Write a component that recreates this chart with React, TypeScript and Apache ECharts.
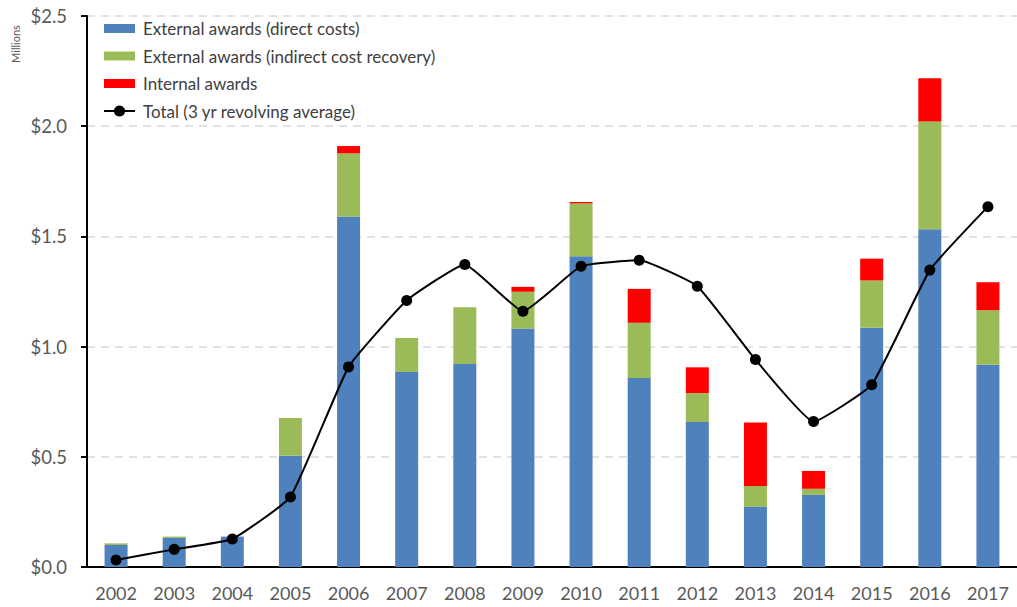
import React, { useEffect, useRef } from "react";
import * as echarts from "echarts";

const years = ["2002", "2003", "2004", "2005", "2006", "2007", "2008", "2009", "2010", "2011", "2012", "2013", "2014", "2015", "2016", "2017"];
const directCosts = [0.10, 0.132, 0.138, 0.505, 1.59, 0.885, 0.921, 1.082, 1.41, 0.858, 0.658, 0.274, 0.327, 1.085, 1.532, 0.918];
const indirectRecovery = [0.007, 0.006, 0, 0.171, 0.287, 0.154, 0.258, 0.167, 0.24, 0.25, 0.131, 0.094, 0.028, 0.215, 0.489, 0.247];
const internalAwards = [0, 0, 0, 0, 0.033, 0, 0, 0.022, 0.006, 0.154, 0.117, 0.288, 0.081, 0.099, 0.197, 0.127];
const revolvingAverage = [0.032, 0.080, 0.127, 0.318, 0.908, 1.209, 1.373, 1.16, 1.365, 1.392, 1.274, 0.941, 0.66, 0.827, 1.347, 1.635];

const FONT = "Lato";
const RECT_ICON = "path://M0 0H31V9H0Z";

export default function App() {
  const ref = useRef<HTMLDivElement>(null);
  useEffect(() => {
    if (!ref.current) return;
    const chart = echarts.init(ref.current, null, { renderer: "svg" });
    chart.setOption({
      animation: false,
      backgroundColor: "#ffffff",
      textStyle: { fontFamily: FONT },
      grid: { left: 87, top: 16, width: 938, height: 551, containLabel: false },
      legend: {
        orient: "vertical",
        left: 103,
        top: 20,
        padding: 0,
        itemWidth: 31,
        itemHeight: 14,
        itemGap: 10.5,
        selectedMode: false,
        textStyle: { fontFamily: FONT, fontSize: 17, color: "#404040", padding: [0, 0, 0, 3] },
        data: [
          { name: "External awards (direct costs)", icon: RECT_ICON },
          { name: "External awards (indirect cost recovery)", icon: RECT_ICON },
          { name: "Internal awards", icon: RECT_ICON },
          { name: "Total (3 yr revolving average)" },
        ],
      },
      graphic: [
        {
          type: "text",
          x: 15,
          y: 44,
          rotation: Math.PI / 2,
          style: {
            text: "Millions",
            fontFamily: FONT,
            fontSize: 11,
            fill: "#595959",
            align: "center",
            verticalAlign: "middle",
          },
        },
      ],
      xAxis: {
        type: "category",
        data: years,
        axisTick: { show: false },
        axisLine: { show: true, lineStyle: { color: "#000000", width: 2 } },
        axisLabel: { fontFamily: FONT, fontSize: 18, color: "#595959", margin: 17 },
      },
      yAxis: {
        type: "value",
        min: 0,
        max: 2.5,
        interval: 0.5,
        axisLine: { show: true, lineStyle: { color: "#000000", width: 2 } },
        axisTick: { show: true, length: 6, lineStyle: { color: "#000000", width: 2 } },
        axisLabel: {
          fontFamily: FONT,
          fontSize: 18.5,
          color: "#595959",
          margin: 20,
          formatter: (v: number) => "$" + v.toFixed(1),
        },
        splitLine: { show: true, lineStyle: { color: "#d9d9d9", width: 1.5, type: [8, 6] } },
      },
      series: [
        {
          name: "External awards (direct costs)",
          type: "bar",
          stack: "awards",
          barWidth: 23,
          itemStyle: { color: "#4F81BD" },
          data: directCosts,
        },
        {
          name: "External awards (indirect cost recovery)",
          type: "bar",
          stack: "awards",
          barWidth: 23,
          itemStyle: { color: "#9BBB59" },
          data: indirectRecovery,
        },
        {
          name: "Internal awards",
          type: "bar",
          stack: "awards",
          barWidth: 23,
          itemStyle: { color: "#FF0000" },
          data: internalAwards,
        },
        {
          name: "Total (3 yr revolving average)",
          type: "line",
          smooth: 0.12,
          symbol: "circle",
          symbolSize: 11,
          itemStyle: { color: "#000000" },
          lineStyle: { color: "#000000", width: 2 },
          z: 5,
          data: revolvingAverage,
        },
      ],
    });
    return () => chart.dispose();
  }, []);
  return <div ref={ref} style={{ width: 1017, height: 607, position: "absolute", left: 0, top: 0 }} />;
}
